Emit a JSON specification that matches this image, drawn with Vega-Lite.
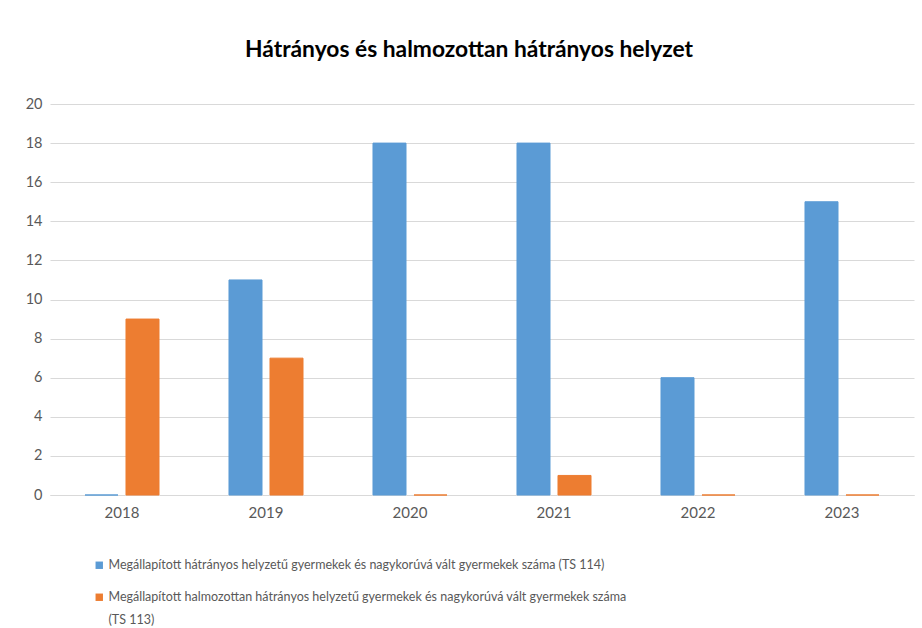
{
  "$schema": "https://vega.github.io/schema/vega-lite/v6.json",
  "autosize": "none",
  "width": 864,
  "height": 391,
  "padding": {"left": 50, "top": 104, "right": 8, "bottom": 133},
  "background": "white",
  "title": {
    "text": "Hátrányos és halmozottan hátrányos helyzet",
    "font": "Lato",
    "fontSize": 22.8,
    "fontWeight": "bold",
    "color": "#000000",
    "anchor": "middle",
    "dx": -13,
    "offset": 34
  },
  "data": {
    "values": [
      {"ev": "2018", "sorozat": "Megállapított hátrányos helyzetű gyermekek és nagykorúvá vált gyermekek száma (TS 114)", "ertek": 0},
      {"ev": "2018", "sorozat": "Megállapított halmozottan hátrányos helyzetű gyermekek és nagykorúvá vált gyermekek száma (TS 113)", "ertek": 9},
      {"ev": "2019", "sorozat": "Megállapított hátrányos helyzetű gyermekek és nagykorúvá vált gyermekek száma (TS 114)", "ertek": 11},
      {"ev": "2019", "sorozat": "Megállapított halmozottan hátrányos helyzetű gyermekek és nagykorúvá vált gyermekek száma (TS 113)", "ertek": 7},
      {"ev": "2020", "sorozat": "Megállapított hátrányos helyzetű gyermekek és nagykorúvá vált gyermekek száma (TS 114)", "ertek": 18},
      {"ev": "2020", "sorozat": "Megállapított halmozottan hátrányos helyzetű gyermekek és nagykorúvá vált gyermekek száma (TS 113)", "ertek": 0},
      {"ev": "2021", "sorozat": "Megállapított hátrányos helyzetű gyermekek és nagykorúvá vált gyermekek száma (TS 114)", "ertek": 18},
      {"ev": "2021", "sorozat": "Megállapított halmozottan hátrányos helyzetű gyermekek és nagykorúvá vált gyermekek száma (TS 113)", "ertek": 1},
      {"ev": "2022", "sorozat": "Megállapított hátrányos helyzetű gyermekek és nagykorúvá vált gyermekek száma (TS 114)", "ertek": 6},
      {"ev": "2022", "sorozat": "Megállapított halmozottan hátrányos helyzetű gyermekek és nagykorúvá vált gyermekek száma (TS 113)", "ertek": 0},
      {"ev": "2023", "sorozat": "Megállapított hátrányos helyzetű gyermekek és nagykorúvá vált gyermekek száma (TS 114)", "ertek": 15},
      {"ev": "2023", "sorozat": "Megállapított halmozottan hátrányos helyzetű gyermekek és nagykorúvá vált gyermekek száma (TS 113)", "ertek": 0}
    ]
  },
  "mark": {"type": "bar", "strokeWidth": 1},
  "encoding": {
    "x": {
      "field": "ev",
      "type": "nominal",
      "title": null,
      "scale": {"paddingInner": 0.486, "paddingOuter": 0.243},
      "axis": {
        "labelAngle": 0,
        "labelFont": "Lato",
        "labelFontSize": 15,
        "labelColor": "#595959",
        "labelPadding": 10,
        "ticks": false,
        "domainColor": "#D9D9D9",
        "domainWidth": 1
      }
    },
    "xOffset": {
      "field": "sorozat",
      "type": "nominal",
      "sort": null,
      "scale": {"paddingInner": 0.195, "paddingOuter": 0}
    },
    "y": {
      "field": "ertek",
      "type": "quantitative",
      "title": null,
      "scale": {"domain": [0, 20]},
      "axis": {
        "values": [0, 2, 4, 6, 8, 10, 12, 14, 16, 18, 20],
        "labelFont": "Lato",
        "labelFontSize": 14.5,
        "labelColor": "#595959",
        "labelPadding": 8,
        "ticks": false,
        "domain": false,
        "gridColor": "#D9D9D9",
        "gridWidth": 1
      }
    },
    "color": {
      "field": "sorozat",
      "type": "nominal",
      "sort": null,
      "scale": {
        "domain": [
          "Megállapított hátrányos helyzetű gyermekek és nagykorúvá vált gyermekek száma (TS 114)",
          "Megállapított halmozottan hátrányos helyzetű gyermekek és nagykorúvá vált gyermekek száma (TS 113)"
        ],
        "range": ["#5B9BD5", "#ED7D31"]
      },
      "legend": {
        "title": null,
        "orient": "none",
        "legendX": 43,
        "legendY": 455,
        "direction": "vertical",
        "symbolType": "square",
        "symbolSize": 55,
        "symbolStrokeWidth": 0,
        "labelFont": "Lato",
        "labelFontSize": 12.5,
        "labelColor": "#595959",
        "labelLimit": 900,
        "rowPadding": 19,
        "labelOffset": 3,
        "labelExpr": "indexof(datum.label, 'halmozottan') >= 0 ? ['Megállapított halmozottan hátrányos helyzetű gyermekek és nagykorúvá vált gyermekek száma', '(TS 113)'] : datum.label"
      }
    },
    "stroke": {
      "field": "sorozat",
      "type": "nominal",
      "sort": null,
      "scale": {
        "domain": [
          "Megállapított hátrányos helyzetű gyermekek és nagykorúvá vált gyermekek száma (TS 114)",
          "Megállapított halmozottan hátrányos helyzetű gyermekek és nagykorúvá vált gyermekek száma (TS 113)"
        ],
        "range": ["#5B9BD5", "#ED7D31"]
      },
      "legend": null
    }
  },
  "config": {
    "view": {"stroke": null},
    "style": {"guide-label": {"lineHeight": 23}}
  }
}
